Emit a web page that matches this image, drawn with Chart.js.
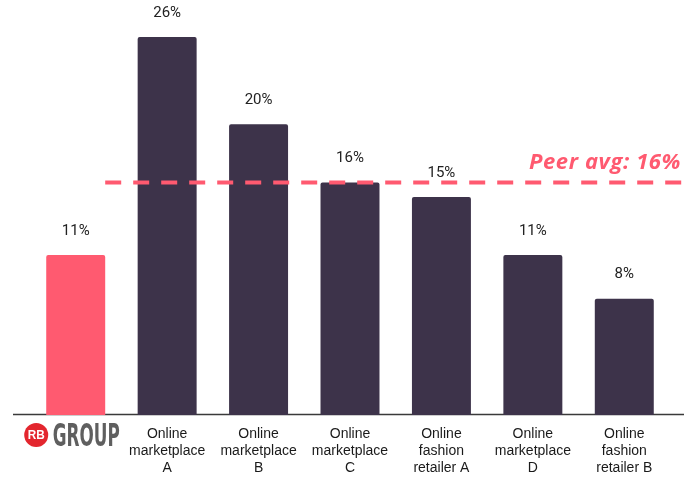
<!DOCTYPE html>
<html>
<head>
<meta charset="utf-8">
<script src="https://cdn.jsdelivr.net/npm/chart.js@4.4.1/dist/chart.umd.min.js"></script>
<style>
  html, body { margin: 0; padding: 0; background: #ffffff; }
  #wrap { width: 684px; height: 478px; }
</style>
</head>
<body>
<div id="wrap"><canvas id="chart" width="684" height="478"></canvas></div>
<script>
// Share of each company (percent)
const categories = [
  '',
  ['Online', 'marketplace', 'A'],
  ['Online', 'marketplace', 'B'],
  ['Online', 'marketplace', 'C'],
  ['Online', 'fashion', 'retailer A'],
  ['Online', 'marketplace', 'D'],
  ['Online', 'fashion', 'retailer B']
];
const values = [11, 26, 20, 16, 15, 11, 8];
const valueLabels = ['11%', '26%', '20%', '16%', '15%', '11%', '8%'];
const PEER_AVG = 16;
const peerLabel = 'Peer avg: 16%';

const PINK = '#FF5A70';
const PURPLE = '#3D334A';
const barColors = values.map((v, i) => i === 0 ? PINK : PURPLE);

// Baseline, value labels, peer-average line and the company logo
const decorations = {
  id: 'decorations',
  beforeDatasetsDraw(chart) {
    const { ctx, chartArea } = chart;
    ctx.save();
    ctx.strokeStyle = '#3a3a3a';
    ctx.lineWidth = 1.5;
    ctx.beginPath();
    ctx.moveTo(13, chartArea.bottom - 0.5);
    ctx.lineTo(684, chartArea.bottom - 0.5);
    ctx.stroke();
    ctx.restore();
  },
  afterDatasetsDraw(chart) {
    const { ctx } = chart;
    const meta = chart.getDatasetMeta(0);
    const xs = chart.scales.x;
    const ys = chart.scales.y;

    // value labels above bars
    ctx.save();
    ctx.fillStyle = '#222222';
    ctx.font = '15px Roboto';
    ctx.textAlign = 'center';
    ctx.textBaseline = 'middle';
    meta.data.forEach((bar, i) => {
      ctx.fillText(valueLabels[i], bar.x, bar.y - 24);
    });
    ctx.restore();

    // peer average dashed line
    const first = meta.data[0];
    const yAvg = ys.getPixelForValue(PEER_AVG);
    ctx.save();
    ctx.strokeStyle = PINK;
    ctx.lineWidth = 4;
    ctx.setLineDash([16, 12]);
    ctx.beginPath();
    ctx.moveTo(first.x + first.width / 2, yAvg);
    ctx.lineTo(684, yAvg);
    ctx.stroke();
    ctx.setLineDash([]);
    ctx.fillStyle = PINK;
    ctx.font = 'italic bold 22px "Open Sans"';
    if ('letterSpacing' in ctx) ctx.letterSpacing = '0.6px';
    ctx.textAlign = 'right';
    ctx.textBaseline = 'middle';
    ctx.fillText(peerLabel, 681, yAvg - 20);
    ctx.restore();

    // logo under the first bar
    const cx = xs.getPixelForValue(0);
    const ly = chart.chartArea.bottom + 20;
    ctx.save();
    ctx.fillStyle = '#E3262E';
    ctx.beginPath();
    ctx.arc(cx - 39.5, ly, 12, 0, Math.PI * 2);
    ctx.fill();
    ctx.fillStyle = '#ffffff';
    ctx.font = 'bold 13px "Liberation Sans"';
    ctx.textAlign = 'center';
    ctx.textBaseline = 'middle';
    ctx.fillText('RB', cx - 39.5, ly + 0.5, 17);
    ctx.fillStyle = '#5f5f5f';
    ctx.font = 'bold 32px "Liberation Sans Narrow", "DejaVu Sans Condensed"';
    ctx.textAlign = 'left';
    ctx.textBaseline = 'alphabetic';
    ctx.fillText('GROUP', cx - 23, ly + 11, 67);
    ctx.restore();
  }
};

new Chart(document.getElementById('chart'), {
  type: 'bar',
  data: {
    labels: categories,
    datasets: [{
      data: values,
      backgroundColor: barColors,
      borderRadius: { topLeft: 2, topRight: 2 },
      borderSkipped: 'bottom',
      categoryPercentage: 1,
      barPercentage: 0.645
    }]
  },
  options: {
    responsive: false,
    animation: false,
    layout: { padding: { left: 30, right: 14, top: 0, bottom: 0 } },
    plugins: { legend: { display: false }, tooltip: { enabled: false } },
    scales: {
      y: { display: false, min: 0, max: 28.55 },
      x: {
        grid: { display: false, drawTicks: false },
        border: { display: false },
        ticks: {
          color: '#1a1a1a',
          font: { family: '"Liberation Sans", Arial', size: 14, lineHeight: 1.2 },
          padding: 11,
          maxRotation: 0,
          autoSkip: false
        },
        afterFit(scale) { scale.height = 63; }
      }
    }
  },
  plugins: [decorations]
});
</script>
</body>
</html>
